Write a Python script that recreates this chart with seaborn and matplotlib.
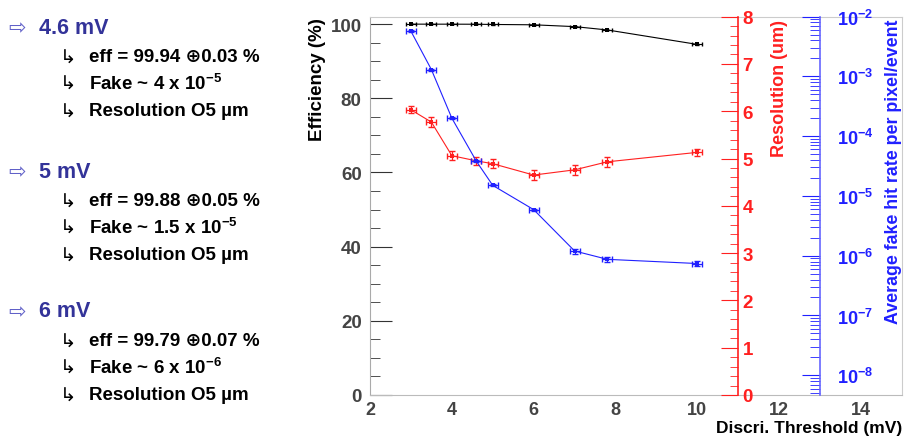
import matplotlib
matplotlib.use("Agg")
import matplotlib.pyplot as plt
import seaborn as sns
from matplotlib.ticker import (MultipleLocator, FixedLocator, LogFormatterMathtext,
                               NullFormatter)

# -------------------- DATA --------------------------------
threshold = [3, 3.5, 4, 4.6, 5, 6, 7, 7.8, 10]
efficiency = [99.97, 99.96, 99.96, 99.94, 99.88, 99.79, 99.3, 98.4, 94.5]
eff_err = [0.03, 0.03, 0.03, 0.03, 0.05, 0.07, 0.1, 0.1, 0.2]
resolution = [6.03, 5.77, 5.06, 4.95, 4.89, 4.65, 4.76, 4.93, 5.13]
res_err = [0.07, 0.1, 0.1, 0.08, 0.1, 0.1, 0.1, 0.1, 0.08]
fake_rate = [5.7e-3, 1.3e-3, 2.0e-4, 3.8e-5, 1.5e-5, 5.9e-6, 1.2e-6, 8.7e-7, 7.4e-7]
fake_err = [2e-4, 5e-5, 8e-6, 1.5e-6, 6e-7, 2.5e-7, 1.2e-7, 8e-8, 7e-8]
x_err = 0.12

fake_decades = [1e-8, 1e-7, 1e-6, 1e-5, 1e-4, 1e-3, 1e-2]

groups = ["4.6 mV", "5 mV", "6 mV"]
eff_vals = ["99.94", "99.88", "99.79"]
eff_errs = ["0.03", "0.05", "0.07"]
fake_vals = ["4 x 10$^{-5}$", "1.5 x 10$^{-5}$", "6 x 10$^{-6}$"]

# -------------------- STYLE -------------------------------
sns.set_style("white")
plt.rcParams['font.family'] = ['Liberation Sans', 'DejaVu Sans']
plt.rcParams['font.weight'] = 'bold'
plt.rcParams['mathtext.fontset'] = 'custom'
plt.rcParams['mathtext.rm'] = 'Liberation Sans:bold'
plt.rcParams['mathtext.it'] = 'Liberation Sans:bold'
plt.rcParams['mathtext.bf'] = 'Liberation Sans:bold'

W, H = 909, 439
fig = plt.figure(figsize=(W / 100, H / 100), dpi=100)
ax = fig.add_axes([370 / W, 1 - 396 / H, (902 - 370) / W, (396 - 17.6) / H])

RED = "#ff2020"
BLUE = "#2020ff"

# -------------------- EFFICIENCY (left axis) --------------
sns.lineplot(x=threshold, y=efficiency, ax=ax, color="black", lw=0.8,
             marker="s", markersize=3, markeredgewidth=0)
ax.errorbar(threshold, efficiency, xerr=x_err, yerr=eff_err, fmt="none",
            ecolor="black", elinewidth=0.8, capsize=1.5)
ax.set_xlim(2, 15)
ax.set_ylim(0, 102)
ax.xaxis.set_major_locator(MultipleLocator(2))
ax.xaxis.set_minor_locator(MultipleLocator(0.5))
ax.yaxis.set_major_locator(MultipleLocator(20))
ax.yaxis.set_minor_locator(MultipleLocator(5))
ax.tick_params(axis="both", which="both", direction="in", top=False, right=False,
               colors="#333333", labelcolor="#444444", labelsize=13.5)
ax.tick_params(axis="y", which="major", length=16, pad=6)
ax.tick_params(axis="y", which="minor", length=7)
ax.tick_params(axis="x", which="major", length=13, pad=4, labelsize=13)
ax.tick_params(axis="x", which="minor", length=7)
for s in ax.spines.values():
    s.set_color("#cccccc")
ax.spines["left"].set_color("#aaaaaa")
ax.spines["bottom"].set_color("#bbbbbb")
ax.set_xlabel("")
ax.set_ylabel("")

# -------------------- RESOLUTION (red axis at x=11) -------
ax_r = ax.twinx()
sns.lineplot(x=threshold, y=resolution, ax=ax_r, color=RED, lw=0.8,
             marker="s", markersize=2.5, markeredgewidth=0)
ax_r.errorbar(threshold, resolution, xerr=x_err, yerr=res_err, fmt="none",
              ecolor=RED, elinewidth=0.9, capsize=2)
ax_r.set_ylim(0, 8)
ax_r.yaxis.set_major_locator(MultipleLocator(1))
ax_r.yaxis.set_minor_locator(MultipleLocator(0.2))
for k, s in ax_r.spines.items():
    s.set_visible(k == "right")
ax_r.spines["right"].set_position(("data", 11))
ax_r.spines["right"].set_color(RED)
ax_r.spines["right"].set_linewidth(1.2)
ax_r.tick_params(axis="y", which="both", direction="in", colors=RED,
                 labelcolor=RED, labelsize=13.5, pad=3)
ax_r.tick_params(axis="y", which="major", length=12)
ax_r.tick_params(axis="y", which="minor", length=6)
ax_r.set_ylabel("")

# -------------------- FAKE RATE (blue log axis at x=13) ---
ax_b = ax.twinx()
sns.lineplot(x=threshold, y=fake_rate, ax=ax_b, color=BLUE, lw=0.8,
             marker="s", markersize=2.5, markeredgewidth=0)
ax_b.errorbar(threshold, fake_rate, xerr=x_err, yerr=fake_err, fmt="none",
              ecolor=BLUE, elinewidth=0.9, capsize=2)
ax_b.set_yscale("log")
ax_b.set_ylim(10 ** -8.33, 1e-2)
ax_b.yaxis.set_major_locator(FixedLocator(fake_decades))
ax_b.yaxis.set_major_formatter(LogFormatterMathtext())
minor = [m * d for d in [1e-9] + fake_decades[:-1] for m in range(2, 10)]
minor = [v for v in minor if v >= 10 ** -8.33]
ax_b.yaxis.set_minor_locator(FixedLocator(minor))
ax_b.yaxis.set_minor_formatter(NullFormatter())
for k, s in ax_b.spines.items():
    s.set_visible(k == "right")
ax_b.spines["right"].set_position(("data", 13))
ax_b.spines["right"].set_color("#6666ff")
ax_b.spines["right"].set_linewidth(1.2)
ax_b.tick_params(axis="y", which="both", direction="in", colors=BLUE,
                 labelcolor=BLUE, labelsize=13, pad=12)
ax_b.tick_params(axis="y", which="major", length=13)
ax_b.tick_params(axis="y", which="minor", length=7)
ax_b.set_ylabel("")

# -------------------- AXIS TITLES -------------------------
def px(x, y):
    return x / W, 1 - y / H

fig.text(*px(318, 18), "Efficiency (%)", rotation=90, ha="center", va="top",
         fontsize=13.5, color="black", fontweight="bold")
fig.text(*px(780, 20), "Resolution (um)", rotation=90, ha="center", va="top",
         fontsize=13, color=RED, fontweight="bold")
fig.text(*px(894, 20), "Average fake hit rate per pixel/event", rotation=90,
         ha="center", va="top", fontsize=12.8, color=BLUE, fontweight="bold")
fig.text(*px(902, 436), "Discri. Threshold (mV)", ha="right", va="bottom",
         fontsize=12.5, color="black", fontweight="bold")

# -------------------- LEFT TEXT PANEL ---------------------
header_y = [28, 172, 312]
fam = ["Liberation Sans", "DejaVu Sans"]
for g, hy, ev, ee, fv in zip(groups, header_y, eff_vals, eff_errs, fake_vals):
    fig.text(*px(8, hy), "\u21e8", ha="left", va="center", fontsize=15,
             color="#6060c8", family=["DejaVu Sans"], fontweight="normal")
    fig.text(*px(39, hy), g, ha="left", va="center", fontsize=15.5,
             color="#333399", fontweight="bold", family=fam)
    lines = ["eff = %s \u2295%s %%" % (ev, ee),
             "Fake ~ " + fv,
             "Resolution O5 \u00b5m"]
    for off, t in zip([30, 56, 84], lines):
        fig.text(*px(60, hy + off), "\u21b3", ha="left", va="center", fontsize=14,
                 color="black", family=["DejaVu Sans"], fontweight="normal")
        fig.text(*px(89, hy + off), t, ha="left", va="center", fontsize=13.5,
                 color="black", fontweight="bold", family=fam)

fig.savefig("out.png", dpi=100)
